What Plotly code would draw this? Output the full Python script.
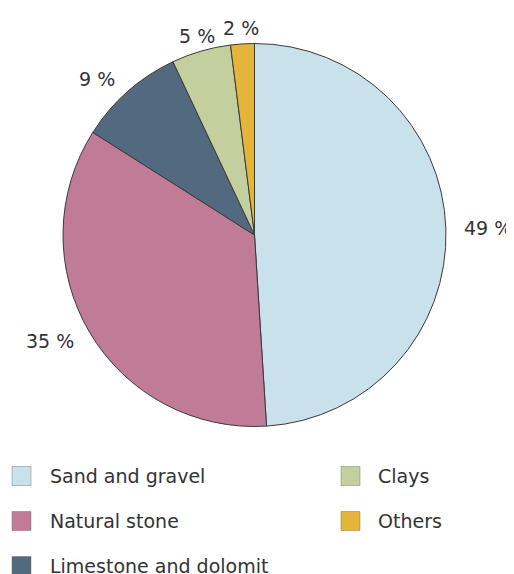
import math
import plotly.graph_objects as go

labels = ["Sand and gravel", "Natural stone", "Limestone and dolomit", "Clays", "Others"]
values = [49, 35, 9, 5, 2]
colors = ["#c9e1ea", "#c07b97", "#53697f", "#c3d09e", "#e4b43b"]

W, H = 514, 574
OFF = 8  # page body margin
FONT = "DejaVu Sans, Verdana, sans-serif"
TXT = "#333333"

# pie geometry (page pixels -> figure pixels)
CX, CY, R = 254.5 - OFF, 235 - OFF, 191.5

fig = go.Figure(go.Pie(
    labels=labels, values=values, sort=False, direction="clockwise", rotation=0,
    marker=dict(colors=colors, line=dict(color="#3a3a3a", width=1)),
    textinfo="none",
    domain=dict(x=[(CX - R) / W, (CX + R) / W], y=[1 - (CY + R) / H, 1 - (CY - R) / H]),
    showlegend=False, hoverinfo="label+value",
))

# outside percentage labels, placed along each slice's mid-angle
annos = []
total = sum(values)
cum = 0
GAP = 16
for v in values:
    mid = (cum + v / 2) / total * 2 * math.pi
    cum += v
    s, c = math.sin(mid), math.cos(mid)
    px = CX + (R + GAP) * s
    py = CY - (R + GAP) * c
    xa = "left" if s > 0.3 else ("right" if s < -0.3 else "center")
    annos.append(dict(xref="paper", yref="paper", x=px / W, y=1 - py / H,
                      text=f"{v} %", showarrow=False, xanchor=xa, yanchor="middle",
                      font=dict(family=FONT, size=19, color=TXT)))

# manual two-column legend (column-major order)
legend_cols = [(12 - OFF, 47.5 - OFF), (341 - OFF, 376 - OFF)]
row_y = [476 - OFF, 521 - OFF, 566 - OFF]
shapes = []
for i, (lab, col) in enumerate(zip(labels, colors)):
    cidx, r = divmod(i, 3)
    sx, tx = legend_cols[cidx]
    cy = row_y[r]
    shapes.append(dict(type="rect", xref="paper", yref="paper",
                       x0=sx / W, x1=(sx + 19) / W, y0=1 - (cy + 9.5) / H, y1=1 - (cy - 9.5) / H,
                       fillcolor=col, line=dict(color="rgba(80,80,80,0.35)", width=1)))
    annos.append(dict(xref="paper", yref="paper", x=tx / W, y=1 - cy / H, text=lab,
                      showarrow=False, xanchor="left", yanchor="middle",
                      font=dict(family=FONT, size=19, color=TXT)))

fig.update_layout(width=W, height=H, margin=dict(l=0, r=0, t=0, b=0),
                  paper_bgcolor="white", plot_bgcolor="white",
                  shapes=shapes, annotations=annos)
fig.write_html("out.html")
